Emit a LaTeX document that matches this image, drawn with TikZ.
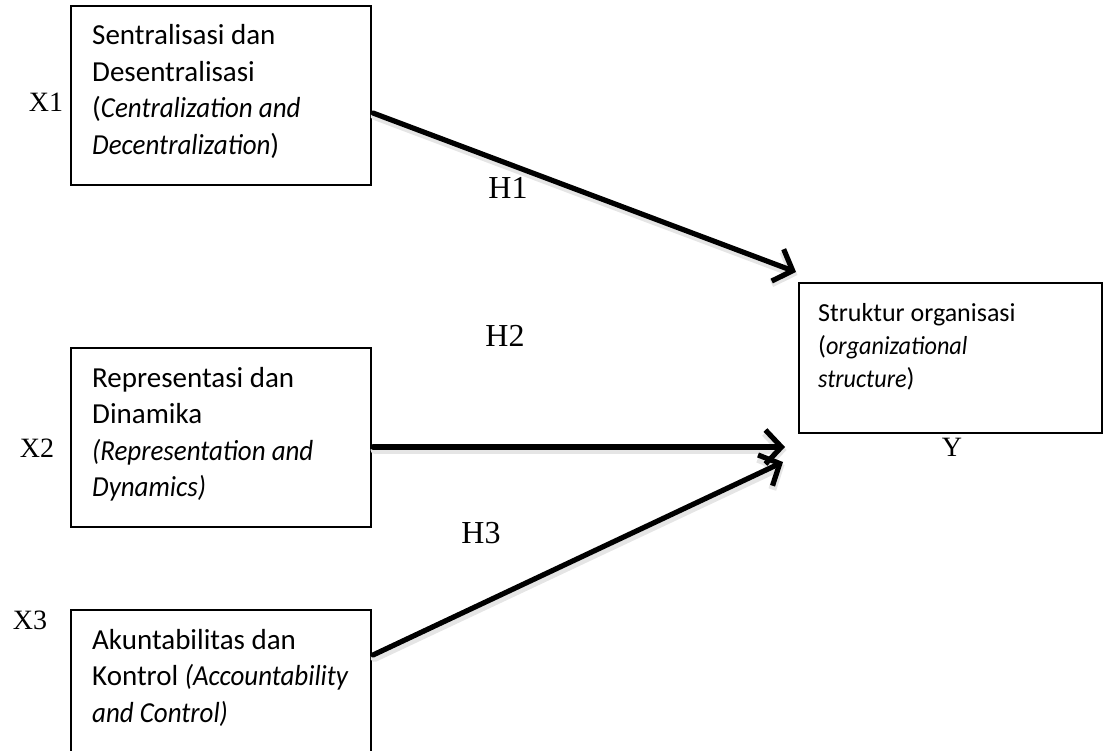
\documentclass[tikz,border=0pt]{standalone}
\usepackage{fontspec}
\setmainfont{Carlito}[ItalicFeatures={FakeStretch=0.93}]
\newfontfamily\tnr{Liberation Serif}
\usetikzlibrary{arrows.meta}
\begin{document}
\begin{tikzpicture}[x=1pt,y=-1pt,
  boxnode/.style={draw, line width=1.6pt, anchor=north west, minimum width=300pt, minimum height=179pt, inner sep=0pt, outer sep=0pt},
  txt/.style={anchor=base west, inner sep=0pt, font=\fontsize{29}{36.5}\selectfont},
  ytxt/.style={anchor=base west, inner sep=0pt, font=\fontsize{26}{32.5}\selectfont},
  xlbl/.style={font=\tnr\fontsize{28}{30}\selectfont, inner sep=0pt},
  hlbl/.style={font=\tnr\fontsize{32}{34}\selectfont, inner sep=0pt},
  arr/.style={line width=5.2pt, line cap=round, -{Straight Barb[length=16pt,width=34pt]}},
  shade/.style={line width=8pt, draw=black!10, line cap=round, -{Straight Barb[length=16pt,width=34pt]}, transform canvas={shift={(1.5pt,-3pt)}}}
]
\useasboundingbox (0,0) rectangle (1103,751);
% boxes
\node[boxnode] (b1) at (71,6) {};
\node[boxnode] (b2) at (71,348) {};
\node[boxnode] (b3) at (71,610) {};
\node[boxnode, minimum width=303pt, minimum height=150pt] (by) at (799,283) {};
% texts
\node[txt] (t1) at (92,45) {\vtop{\hbox{Sentralisasi dan}\hbox{Desentralisasi}\hbox{(\textit{Centralization and}}\hbox{\textit{Decentralization})}}};
\node[txt] (t2) at (92,387) {\vtop{\hbox{Representasi dan}\hbox{Dinamika}\hbox{\textit{(Representation and}}\hbox{\textit{Dynamics)}}}};
\node[txt] (t3) at (92,649) {\vtop{\hbox{Akuntabilitas dan}\hbox{Kontrol \textit{(Accountability}}\hbox{\textit{and Control)}}}};
\node[ytxt] (ty) at (818,322) {\vtop{\hbox{Struktur organisasi}\hbox{(\textit{organizational}}\hbox{\textit{structure})}}};
% variable labels
\node[xlbl] (x1) at (46,102) {X1};
\node[xlbl] (x2) at (37,448) {X2};
\node[xlbl] (x3) at (30,620) {X3};
\node[xlbl] (y) at (952,447) {Y};
% hypothesis labels
\node[hlbl] (h1) at (508,188) {H1};
\node[hlbl] (h2) at (505,336) {H2};
\node[hlbl] (h3) at (481,533) {H3};
% arrow end points
\coordinate (s1) at (373,113);
\coordinate (e1) at (796,272);
\coordinate (s2) at (373,447);
\coordinate (e2) at (785,447);
\coordinate (s3) at (373,655);
\coordinate (e3) at (783,462);
% shadows
\draw[shade] (s1) -- (e1);
\draw[shade] (s2) -- (e2);
\draw[shade] (s3) -- (e3);
% arrows
\draw[arr] (s1) -- (e1);
\draw[arr] (s2) -- (e2);
\draw[arr] (s3) -- (e3);
\end{tikzpicture}
\end{document}
